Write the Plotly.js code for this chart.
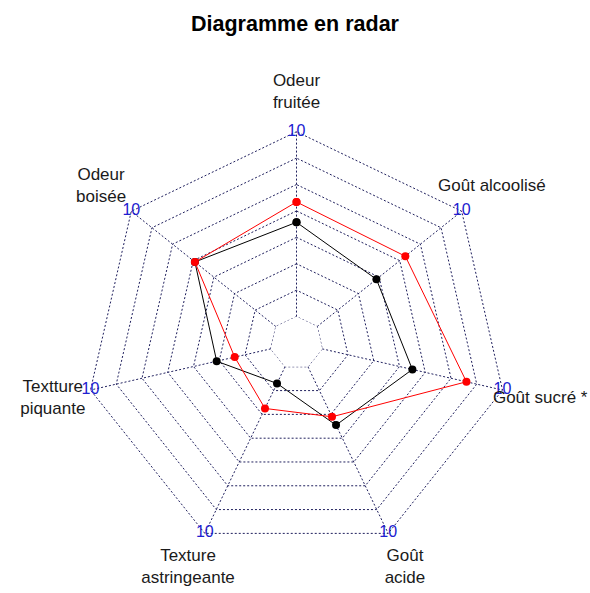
<!DOCTYPE html>
<html><head><meta charset="utf-8">
<script src="https://cdn.plot.ly/plotly-3.0.1.min.js"></script>
<style>html,body{margin:0;padding:0;background:#fff}#chart{width:590px;height:593px}</style>
</head><body><div id="chart"></div>
<script>
// ---- data ----
const categories = ["Odeur fruitée","Odeur boisée","Textture piquante","Texture astringeante","Goût acide","Goût sucré *","Goût alcoolisé"];
const categoryLabels = ["Odeur<br>fruitée","Odeur<br>boisée","Textture<br>piquante","Texture<br>astringeante","Goût<br>acide","Goût sucré *","Goût alcoolisé"];
const maxValues = [10,10,10,10,10,10,10];
const minValues = [0,0,0,0,0,0,0];
const seriesRed = [6.2,5.6,2.0,2.5,3.0,8.0,6.1];
const seriesBlack = [5.1,5.6,3.0,1.0,3.5,5.0,4.1];
const segments = 7;

// ---- helpers ----
const close = a => a.concat([a[0]]);
const vmax = maxValues[0], vmin = minValues[0];
const innerFrac = 1/(segments+1);      // inner ring as fraction of outer radius
const labelFrac = 1.183;               // labels sit just outside the outer ring
const gridVals = [];
for (let i = 0; i <= segments; i++) gridVals.push(vmin + i*(vmax-vmin)/segments);
const rMax = vmin + (labelFrac - innerFrac)/(1 - innerFrac)*(vmax - vmin);
const labelR = categories.map(() => rMax);

// spokes from inner ring to outer ring
const spokeR = [], spokeT = [];
categories.forEach((c, i) => { spokeR.push(minValues[i], maxValues[i], null); spokeT.push(c, c, null); });

const gridColor = "#20205e";
const gridDash = "2px,2px";
const font = "Liberation Sans, Arial, sans-serif";

const traces = [
  {type:"scatterpolar", r: spokeR, theta: spokeT, mode:"lines", connectgaps:false,
   line:{color:gridColor, width:1, dash:gridDash}, hoverinfo:"skip"},
  {type:"scatterpolar", r: close(minValues), theta: close(categories), mode:"lines",
   line:{color:gridColor, width:1, dash:gridDash}, hoverinfo:"skip"},
  {type:"scatterpolar", r: close(seriesBlack), theta: close(categories), mode:"lines+markers",
   line:{color:"#000000", width:1}, marker:{color:"#000000", size:8}, hoverinfo:"skip", cliponaxis:false},
  {type:"scatterpolar", r: close(seriesRed), theta: close(categories), mode:"lines+markers",
   line:{color:"#ff0000", width:1}, marker:{color:"#ff0000", size:8}, hoverinfo:"skip", cliponaxis:false},
  {type:"scatterpolar", r: maxValues, theta: categories, mode:"text", text: maxValues.map(String),
   textposition:"middle center", textfont:{family:font, size:16, color:"#2020d0"},
   hoverinfo:"skip", cliponaxis:false},
  {type:"scatterpolar", r: labelR, theta: categories, mode:"text", text: categoryLabels,
   textposition:"middle center", textfont:{family:font, size:17, color:"#1a1a1a"},
   hoverinfo:"skip", cliponaxis:false}
];

const W = 590, H = 593, cx = 296.5, cy = 343, R = 211.3;
const Rd = R*labelFrac;
const layout = {
  width: W, height: H,
  margin:{l:0, r:0, t:0, b:0},
  paper_bgcolor:"#ffffff",
  showlegend:false,
  title:{text:"<b>Diagramme en radar</b>", font:{family:font, size:21.5, color:"#000000"},
         x:0.5, xanchor:"center", yref:"container", y:1 - 23/H, yanchor:"middle"},
  polar:{
    domain:{x:[(cx-Rd)/W, (cx+Rd)/W], y:[Math.max(0,(H-cy-Rd)/H), Math.min(1,(H-cy+Rd)/H)]},
    bgcolor:"rgba(0,0,0,0)",
    hole: innerFrac/labelFrac,
    gridshape:"linear",
    radialaxis:{range:[vmin, rMax], tickvals: gridVals, showticklabels:false, ticks:"", showline:false,
                gridcolor: gridColor, griddash:gridDash, gridwidth:1},
    angularaxis:{type:"category", categoryarray: categories, rotation:90, direction:"counterclockwise",
                 showticklabels:false, ticks:"", showline:false, showgrid:false}
  }
};
Plotly.newPlot("chart", traces, layout, {staticPlot:true, displayModeBar:false});
</script></body></html>
